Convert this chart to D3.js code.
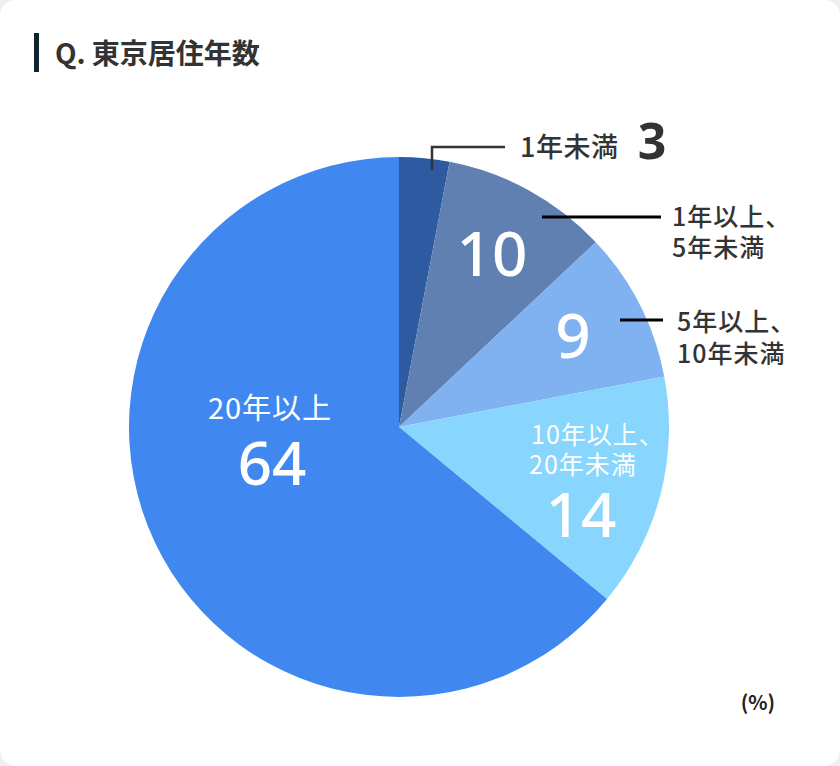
<!DOCTYPE html>
<html><head><meta charset="utf-8">
<script src="https://cdn.jsdelivr.net/npm/d3@7"></script>
<style>html,body{margin:0;padding:0;background:#f0f0f0;}svg{display:block;}</style>
</head><body>
<script>
const categories = ["1年未満", "1年以上、5年未満", "5年以上、10年未満", "10年以上、20年未満", "20年以上"];
const values = [3, 10, 9, 14, 64];
const colors = ["#2d5aa0", "#5f80b0", "#80b1f0", "#88d5fd", "#4088f0"];

const W = 840, H = 766;
const svg = d3.select("body").append("svg").attr("width", W).attr("height", H);
svg.append("rect").attr("width", W).attr("height", H).attr("rx", 16).attr("fill", "#fff");

const font = "'Noto Sans CJK JP', 'Noto Sans', sans-serif";
const numFont = "'Noto Sans', 'Noto Sans CJK JP', sans-serif";

// Title
svg.append("rect").attr("x", 34).attr("y", 33).attr("width", 5).attr("height", 39).attr("fill", "#10222e");
const title = svg.append("text").attr("x", 55).attr("y", 64)
  .attr("font-family", font).attr("font-size", 28).attr("font-weight", 700).attr("fill", "#333");
title.append("tspan").text("Q.");
title.append("tspan").attr("dx", 6).text("東京居住年数");

const cx = 399, cy = 427, R = 270;
const pie = d3.pie().sort(null).value(d => d)(values);
const arc = d3.arc().innerRadius(0).outerRadius(R);
const g = svg.append("g").attr("transform", `translate(${cx},${cy})`);
g.selectAll("path").data(pie).join("path").attr("d", arc).attr("fill", (d, i) => colors[i]);

function txt(x, y, s, size, fill, weight, anchor, ls) {
  return svg.append("text").attr("x", x).attr("y", y).text(s)
    .attr("font-family", font).attr("font-size", size).attr("fill", fill)
    .attr("font-weight", weight || 400).attr("text-anchor", anchor || "start")
    .attr("letter-spacing", ls || 0);
}
// two-line label as one text element
function txt2(x, y, lines, lh, size, fill, weight, ls) {
  const t = svg.append("text").attr("x", x).attr("y", y)
    .attr("font-family", font).attr("font-size", size).attr("fill", fill)
    .attr("font-weight", weight).attr("letter-spacing", ls);
  lines.forEach((s, i) => t.append("tspan").attr("x", x + (s.dx || 0)).attr("dy", i ? lh : 0).text(s.t));
  return t;
}
function num(x, y, s, size, fill, weight) {
  return svg.append("text").attr("x", x).attr("y", y).text(s)
    .attr("font-family", numFont).attr("font-size", size).attr("fill", fill)
    .attr("font-weight", weight || 400).attr("text-anchor", "middle");
}

// Slice 0 : 1年未満 3
svg.append("path").attr("d", "M432,170 V147 H505").attr("fill", "none").attr("stroke", "#333").attr("stroke-width", 2.5);
txt(520, 157, categories[0], 27, "#333", 500, "start", 0.5);
num(652, 159, String(values[0]), 50, "#333", 700);

// Slice 1 : 10
num(492, 276, String(values[1]), 62, "#fff", 500);
svg.append("line").attr("x1", 542).attr("x2", 661).attr("y1", 217).attr("y2", 217).attr("stroke", "#000").attr("stroke-width", 3);
txt2(672, 226, [{t: "1年以上、"}, {t: "5年未満"}], 31, 25, "#333", 500, 1);

// Slice 2 : 9
num(573, 358, String(values[2]), 62, "#fff", 500);
svg.append("line").attr("x1", 620).attr("x2", 663).attr("y1", 320).attr("y2", 320).attr("stroke", "#000").attr("stroke-width", 3);
txt2(677, 331, [{t: "5年以上、"}, {t: "10年未満"}], 32, 25, "#333", 500, 1);

// Slice 3 : 14 (one text element: two label lines + value)
{
  const t = svg.append("text").attr("font-family", font).attr("fill", "#fff");
  t.append("tspan").attr("x", 531).attr("y", 444).attr("font-size", 25).attr("letter-spacing", 1).text("10年以上、");
  t.append("tspan").attr("x", 529).attr("y", 474).attr("font-size", 25).attr("letter-spacing", 1).text("20年未満");
  t.append("tspan").attr("x", 581).attr("y", 537).attr("text-anchor", "middle")
    .attr("font-family", numFont).attr("font-size", 62).attr("font-weight", 500).text(String(values[3]));
}

// Slice 4 : 64 (one text element)
{
  const t = svg.append("text").attr("font-family", font).attr("fill", "#fff").attr("text-anchor", "middle");
  t.append("tspan").attr("x", 270).attr("y", 419).attr("font-size", 29).attr("letter-spacing", 1).text(categories[4]);
  t.append("tspan").attr("x", 272).attr("y", 485)
    .attr("font-family", numFont).attr("font-size", 60).attr("font-weight", 500).text(String(values[4]));
}

// unit
txt(758, 710, "(%)", 20, "#222", 700, "middle");
</script>
</body></html>
